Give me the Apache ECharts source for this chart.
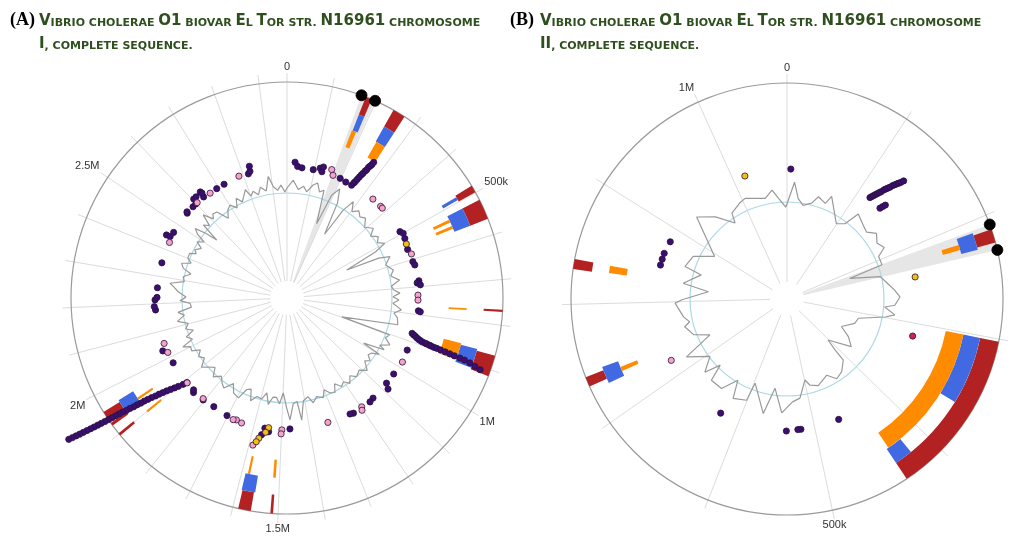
<!DOCTYPE html>
<html lang="en">
<head>
<meta charset="utf-8">
<title>Vibrio cholerae O1 biovar El Tor str. N16961</title>
<script src="https://cdn.jsdelivr.net/npm/echarts@6.0.0/dist/echarts.min.js"></script>
<style>
  html, body { margin: 0; padding: 0; background: #fff; }
  #chart { width: 1023px; height: 537px; }
</style>
</head>
<body>
<div id="chart"></div>
<script>
// chromosome lengths (kb)
const lenA = 2961.149;
const lenB = 1072.315;

// highlighted region + its end markers (kb)
const wedgeA = [166, 198];
const wedgeB = [208, 229];

// gray profile line: positions (kb) and radial level
const gcPosA = [0, 25, 49, 70, 86, 107, 123, 140, 156, 179, 193, 212, 230, 251, 268, 284, 304, 325, 345, 366, 392, 420, 440, 461, 481, 500, 514, 534, 547, 560, 588, 619, 642, 666, 687, 705, 720, 735, 749, 764, 789, 806, 823, 852, 896, 903, 921, 942, 962, 971, 991, 999, 1012, 1028, 1045, 1061, 1086, 1110, 1139, 1160, 1181, 1201, 1220, 1242, 1259, 1281, 1300, 1316, 1343, 1365, 1382, 1406, 1424, 1435, 1453, 1469, 1482, 1499, 1514, 1530, 1546, 1563, 1579, 1596, 1620, 1641, 1657, 1676, 1694, 1722, 1744, 1769, 1788, 1810, 1835, 1859, 1883, 1900, 1925, 1945, 1967, 1982, 2001, 2014, 2028, 2047, 2065, 2081, 2102, 2122, 2143, 2159, 2176, 2195, 2209, 2225, 2248, 2268, 2280, 2295, 2316, 2336, 2353, 2371, 2385, 2402, 2424, 2435, 2448, 2468, 2484, 2501, 2513, 2526, 2538, 2546, 2559, 2575, 2589, 2608, 2620, 2639, 2662, 2682, 2702, 2723, 2739, 2756, 2770, 2788, 2801, 2816, 2834, 2850, 2871, 2889, 2904, 2920, 2936, 2952];
const gcValA = [110, 118, 109, 113, 108, 116, 119, 111, 114, 80, 112, 121, 108, 74, 104, 117, 108, 113, 109, 112, 105, 111, 104, 110, 106, 112, 100, 66, 100, 111, 104, 110, 106, 114, 105, 107, 113, 106, 112, 106, 115, 108, 112, 114, 58, 109, 106, 113, 104, 110, 89, 108, 101, 99, 104, 100, 108, 102, 105, 100, 106, 101, 104, 98, 106, 104, 99, 106, 103, 108, 101, 104, 123, 104, 106, 122, 110, 95, 106, 100, 100, 108, 97, 104, 103, 109, 98, 100, 111, 109, 101, 110, 107, 102, 108, 100, 105, 110, 102, 106, 101, 109, 108, 115, 103, 108, 99, 106, 102, 112, 104, 110, 96, 97, 107, 101, 109, 114, 118, 104, 106, 99, 108, 111, 102, 107, 107, 101, 104, 99, 106, 100, 110, 115, 104, 91, 111, 106, 118, 108, 112, 111, 99, 106, 109, 103, 112, 106, 110, 116, 108, 112, 107, 114, 109, 123, 112, 108, 113, 106];

const gcPosB = [0, 11, 19, 29, 43, 51, 65, 70, 99, 112, 119, 137, 149, 160, 173, 185, 194, 209, 214, 228, 238, 254, 265, 278, 282, 293, 299, 313, 327, 348, 362, 377, 402, 407, 409, 426, 441, 454, 477, 492, 499, 514, 527, 544, 559, 571, 598, 601, 621, 629, 644, 664, 671, 680, 695, 715, 730, 742, 759, 765, 775, 798, 803, 820, 830, 851, 857, 877, 895, 930, 950, 970, 975, 994, 1005, 1036, 1049, 1058, 1070];
const gcValB = [95, 117, 101, 95, 99, 107, 103, 112, 90, 95, 111, 106, 104, 111, 106, 110, 101, 101, 66, 96, 100, 108, 113, 108, 98, 109, 100, 74, 72, 61, 72, 80, 58, 70, 83, 91, 94, 86, 92, 89, 83, 100, 103, 114, 90, 117, 90, 109, 113, 95, 111, 111, 94, 110, 96, 116, 85, 100, 106, 100, 105, 112, 105, 79, 105, 89, 107, 103, 84, 122, 109, 92, 102, 107, 109, 103, 110, 101, 92];

// feature blocks per track: [start kb, end kb]
const redA = [[176, 190], [243, 271], [483, 499], [518, 563], [766, 771], [868, 915], [1511, 1517], [1560, 1588], [1896, 1902], [1923, 1930], [1932, 1959]];
const blueA = [[176, 190], [243, 271], [487, 495], [518, 563], [864, 911], [1557, 1590], [1928, 1964]];
const orangeA = [[174, 186], [245, 271], [528, 536], [546, 554], [767, 772], [860, 905], [1510, 1517], [1578, 1584], [1897, 1903], [1938, 1944]];

const redB = [[212, 223], [302, 436], [733, 741], [828, 836]];
const blueB = [[210, 225], [302, 362], [420, 436], [729, 744]];
const orangeB = [[216, 221], [302, 434], [734, 738], [829, 836]];

// point features: [position kb, radial level]
const purpleA = [[28, 136], [38, 132], [54, 131], [95, 131], [118, 134], [127, 131], [128, 136], [197, 131], [221, 130],
  [245, 130], [248, 133], [250, 135], [252, 138], [254, 141], [256, 144], [258, 146], [260, 149], [262, 151], [263, 154], [265, 156], [267, 158], [268, 161],
  [490, 131], [501, 133], [520, 132], [560, 130], [608, 131], [621, 132], [679, 133], [686, 131], [694, 134], [786, 132], [789, 134],
  [870, 130], [874, 132], [877, 134], [881, 136], [884, 138], [886, 140], [888, 142], [889, 145], [890, 147], [891, 150], [892, 152], [893, 155], [893, 158], [894, 162], [895, 167], [896, 172], [897, 177], [898, 183], [899, 188], [901, 194], [905, 200], [908, 206],
  [933, 131], [1032, 131], [1074, 131], [1086, 136], [1146, 132], [1163, 133], [1234, 133], [1246, 132], [1470, 131],
  [1545, 135], [1560, 132], [1567, 139],
  [1703, 132], [1760, 131], [1805, 132], [1848, 133], [1855, 131],
  [1890, 131], [1894, 135], [1899, 140], [1903, 144], [1907, 148], [1911, 152], [1914, 156], [1917, 160], [1919, 164], [1922, 168], [1924, 172], [1926, 176], [1927, 180], [1929, 184], [1930, 188], [1932, 192], [1933, 196], [1935, 200], [1936, 204], [1937, 208], [1938, 212], [1939, 216], [1940, 220], [1941, 224], [1942, 228], [1943, 232], [1944, 236], [1945, 240], [1946, 244], [1947, 248], [1948, 252], [1949, 256], [1950, 260],
  [1977, 131], [2031, 135], [2178, 132], [2190, 133], [2214, 132], [2223, 130], [2258, 130], [2350, 130],
  [2448, 136], [2449, 132], [2468, 131], [2553, 131], [2556, 132], [2584, 131], [2598, 131], [2605, 136], [2616, 136], [2636, 131], [2638, 137], [2640, 135],
  [2692, 130], [2723, 130], [2819, 130], [2827, 132], [2830, 137]];
const pinkA = [[158, 136], [169, 131], [337, 131], [375, 131], [384, 131], [580, 132], [730, 131], [748, 131], [979, 132], [1197, 132], [1203, 135], [1331, 131], [1499, 132], [1501, 136], [1588, 151], [1645, 133], [1666, 132], [1677, 133], [1808, 131], [1889, 131], [2019, 131], [2054, 131], [2429, 130], [2605, 131], [2663, 130], [2784, 131]];
const yellowA = [[540, 131], [1547, 131], [1555, 136], [1574, 143], [1580, 147]];

const purpleB = [[5, 130], [117, 131], [118, 133], [119, 135], [120, 137], [121, 139], [122, 141], [123, 143], [124, 146], [125, 148], [126, 150], [127, 152], [128, 155], [129, 157], [130, 159], [131, 161], [132, 163], [133, 166],
  [136, 130], [137, 133], [138, 136], [467, 131], [518, 131], [522, 131], [537, 132], [626, 132], [849, 131], [857, 131], [865, 131], [882, 130]];
const pinkB = [[721, 131]];
const yellowB = [[239, 130], [1016, 130]];
const crimsonB = [[317, 131]];

// radial layout (levels on the radius axis)
const HOLE = 17, RING = 216, OUTER = 225;
const trackRed = [197, 216], trackBlue = [180, 197], trackOrange = [162, 180];

const green = '#2f4f1f';
const capsRich = {
  b: { fontFamily: 'DejaVu Sans', fontWeight: 'bold', fontSize: 15, color: green, lineHeight: 18, verticalAlign: 'bottom' },
  s: { fontFamily: 'DejaVu Sans', fontWeight: 'bold', fontSize: 11, color: green, lineHeight: 18, verticalAlign: 'bottom' }
};
function titleLines(x, roman) {
  return [
    { text: '{b|V}{s|IBRIO CHOLERAE }{b|O1}{s| BIOVAR }{b|E}{s|L }{b|T}{s|OR STR. }{b|N16961}{s| CHROMOSOME}',
      left: x, top: 11, padding: 0, textStyle: { rich: capsRich } },
    { text: '{b|' + roman + '}{s|, COMPLETE SEQUENCE.}',
      left: x, top: 34, padding: 0, textStyle: { rich: capsRich } }
  ];
}

function tickLabel(v) {
  const r = Math.round(v);
  if (Math.abs(v - r) > 1e-6 || r % 500 !== 0) return '';
  if (r === 0) return '0';
  return r >= 1000 ? (r / 1000) + 'M' : r + 'k';
}

function angleAt(api, c, pos) {
  const p = api.coord([RING, pos]);
  return Math.atan2(p[1] - c.cy, p[0] - c.cx);
}
function radiusAt(api, c, level) {
  const p = api.coord([level, 0]);
  return Math.hypot(p[0] - c.cx, p[1] - c.cy);
}

function sectors(pi, blocks, r0, r1, fill) {
  return {
    type: 'custom', coordinateSystem: 'polar', polarIndex: pi, silent: true,
    data: blocks.map(b => [r1, b[0], b[1]]),
    renderItem: function (params, api) {
      const c = params.coordSys;
      const a0 = angleAt(api, c, api.value(1));
      let a1 = angleAt(api, c, api.value(2));
      if (a1 <= a0) a1 += Math.PI * 2;
      return {
        type: 'sector',
        shape: { cx: c.cx, cy: c.cy, r0: radiusAt(api, c, r0), r: radiusAt(api, c, r1), startAngle: a0, endAngle: a1, clockwise: true },
        style: { fill: fill }
      };
    }
  };
}

function ring(pi, level, color) {
  return {
    type: 'custom', coordinateSystem: 'polar', polarIndex: pi, silent: true,
    data: [[level, 0]],
    renderItem: function (params, api) {
      const c = params.coordSys;
      return {
        type: 'circle',
        shape: { cx: c.cx, cy: c.cy, r: radiusAt(api, c, api.value(0)) },
        style: { fill: 'none', stroke: color, lineWidth: 1.2 }
      };
    }
  };
}

function dots(pi, pts, color, size, border) {
  return {
    type: 'scatter', coordinateSystem: 'polar', polarIndex: pi, clip: false, silent: true,
    symbolSize: size,
    itemStyle: { color: color, borderColor: border, borderWidth: 0.8, opacity: 1 },
    data: pts.map(p => [p[1], p[0]])
  };
}

function chartSeries(pi, len, wedge, gcPos, gcVal, base, red, blue, orange, pointSets) {
  const line = gcPos.map((p, i) => [gcVal[i], p]);
  line.push([gcVal[0], len]);
  const out = [
    sectors(pi, [wedge], HOLE, RING, 'rgba(190,190,190,0.38)'),
    ring(pi, base, '#add8e6'),
    {
      type: 'line', coordinateSystem: 'polar', polarIndex: pi, clip: false, silent: true,
      symbol: 'none', data: line,
      lineStyle: { color: '#999', width: 1.2 }
    },
    ring(pi, RING, '#9a9a9a'),
    sectors(pi, red, trackRed[0], trackRed[1], '#b22222'),
    sectors(pi, blue, trackBlue[0], trackBlue[1], '#4169e1'),
    sectors(pi, orange, trackOrange[0], trackOrange[1], '#ff8c00')
  ];
  pointSets.forEach(s => out.push(dots(pi, s[0], s[1], 6.2, '#2a1040')));
  out.push(dots(pi, wedge.map(p => [p, RING]), '#000', 11, '#000'));
  return out;
}

function angleAxis(pi, len) {
  return {
    polarIndex: pi, type: 'value', min: 0, max: len, interval: 100,
    startAngle: 90, clockwise: true,
    axisLine: { show: false }, axisTick: { show: false },
    splitLine: { show: true, lineStyle: { color: '#dcdcdc', width: 1 } },
    axisLabel: { margin: 1, color: '#333', fontSize: 11, fontFamily: 'Liberation Sans', formatter: tickLabel }
  };
}
function radiusAxis(pi) {
  return {
    polarIndex: pi, type: 'value', min: HOLE, max: OUTER,
    axisLine: { show: false }, axisTick: { show: false }, axisLabel: { show: false }, splitLine: { show: false }
  };
}

const chart = echarts.init(document.getElementById('chart'));
chart.setOption({
  animation: false,
  backgroundColor: '#fff',
  title: [
    { text: '(A)', left: 10, top: 11, padding: 0, textStyle: { fontFamily: 'Liberation Serif', fontWeight: 'bold', fontSize: 18, color: '#000' } },
    ...titleLines(39, 'I'),
    { text: '(B)', left: 510, top: 11, padding: 0, textStyle: { fontFamily: 'Liberation Serif', fontWeight: 'bold', fontSize: 18, color: '#000' } },
    ...titleLines(540, 'II')
  ],
  polar: [
    { center: [287, 298], radius: [HOLE, OUTER] },
    { center: [787, 299], radius: [HOLE, OUTER] }
  ],
  angleAxis: [angleAxis(0, lenA), angleAxis(1, lenB)],
  radiusAxis: [radiusAxis(0), radiusAxis(1)],
  series: [
    ...chartSeries(0, lenA, wedgeA, gcPosA, gcValA, 105, redA, blueA, orangeA,
      [[purpleA, '#3b0f70'], [pinkA, '#f5a3c7'], [yellowA, '#f2c014']]),
    ...chartSeries(1, lenB, wedgeB, gcPosB, gcValB, 97, redB, blueB, orangeB,
      [[purpleB, '#3b0f70'], [pinkB, '#f5a3c7'], [yellowB, '#f2c014'], [crimsonB, '#d2244f']])
  ]
});
</script>
</body>
</html>
